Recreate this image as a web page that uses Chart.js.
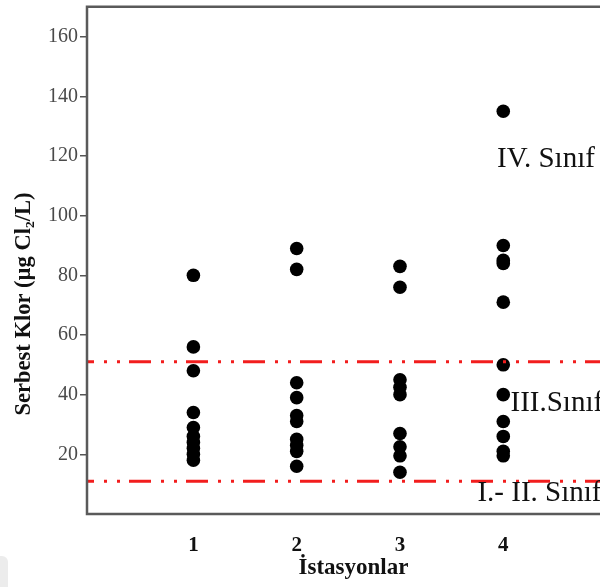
<!DOCTYPE html>
<html>
<head>
<meta charset="utf-8">
<script src="https://cdn.jsdelivr.net/npm/chart.js@4/dist/chart.umd.min.js"></script>
<style>
  html, body { margin: 0; padding: 0; background: #fff; overflow: hidden; }
  #wrap { width: 640px; height: 587px; }
</style>
</head>
<body>
<div id="wrap"><canvas id="c" width="640" height="587"></canvas></div>
<script>
// Free chlorine measurements per station (µg Cl2/L)
const stations = [1, 2, 3, 4];
const station1 = [80, 56, 48, 34, 29, 26, 24, 22, 20, 18];
const station2 = [89, 82, 44, 39, 33, 31, 25, 23, 21, 16];
const station3 = [83, 76, 45, 42.5, 40, 27, 22.5, 19.5, 14];
const station4 = [135, 90, 85, 84, 71, 50, 40, 31, 26, 21, 19.5];

// Water quality class limits and their labels
const classLimits = [51, 11];
const classLabels = ['IV. Sınıf', 'III.Sınıf', 'I.- II. Sınıf'];

const yTickValues = [20, 40, 60, 80, 100, 120, 140, 160];
const xTitle = 'İstasyonlar';
const yTitle = 'Serbest Klor (µg Cl₂/L)';

const X_MIN = -0.03, X_MAX = 5.13, Y_MIN = 0, Y_MAX = 170;
const SERIF = "'Liberation Serif', 'Times New Roman', serif";

const stationSeries = [station1, station2, station3, station4];
const pointData = [];
stationSeries.forEach((vals, i) => {
  vals.forEach(v => pointData.push({ x: stations[i], y: v }));
});

const limitDatasets = classLimits.map(lim => ({
  type: 'scatter',
  data: [{ x: X_MIN, y: lim }, { x: X_MAX, y: lim }],
  showLine: true,
  borderColor: '#f21d1d',
  borderWidth: 3,
  borderDash: [22, 10, 3, 10, 3, 9],
  borderDashOffset: 15,
  pointRadius: 0,
  fill: false,
  order: 0
}));

// Label anchors (data coordinates) for the class names
const labelAnchors = [
  { x: 3.94, y: 119 },
  { x: 4.07, y: 37 },
  { x: 3.75, y: 7 }
];

const noEdgePadding = s => {
  s.paddingTop = 0; s.paddingBottom = 0; s.paddingLeft = 0; s.paddingRight = 0;
};

const backdropPlugin = {
  id: 'backdrop',
  beforeDraw(chart) {
    const { ctx } = chart;
    ctx.save();
    ctx.fillStyle = '#ececec';
    ctx.beginPath();
    ctx.roundRect(-10, 556, 18, 50, 6);
    ctx.fill();
    ctx.restore();
  }
};

const framePlugin = {
  id: 'frame',
  afterDatasetsDraw(chart) {
    const { ctx, chartArea: a } = chart;
    ctx.save();
    ctx.strokeStyle = '#5a5a5a';
    ctx.lineWidth = 2.5;
    ctx.beginPath();
    ctx.moveTo(a.right + 2, a.top);
    ctx.lineTo(a.left, a.top);
    ctx.lineTo(a.left, a.bottom);
    ctx.lineTo(a.right + 2, a.bottom);
    ctx.stroke();
    ctx.restore();
  }
};

const textPlugin = {
  id: 'texts',
  afterDraw(chart) {
    const { ctx, scales } = chart;
    ctx.save();
    // class names
    ctx.fillStyle = '#111';
    ctx.font = '29px ' + SERIF;
    ctx.textAlign = 'left';
    ctx.textBaseline = 'middle';
    classLabels.forEach((t, i) => {
      const p = labelAnchors[i];
      ctx.fillText(t, scales.x.getPixelForValue(p.x), scales.y.getPixelForValue(p.y));
    });
    // vertical axis title
    ctx.translate(24, 304);
    ctx.rotate(-Math.PI / 2);
    ctx.font = 'bold 22.5px ' + SERIF;
    ctx.textAlign = 'center';
    ctx.fillStyle = '#111';
    ctx.fillText(yTitle, 0, 0);
    ctx.restore();
  }
};

new Chart(document.getElementById('c'), {
  type: 'scatter',
  data: {
    datasets: [
      ...limitDatasets,
      {
        type: 'scatter',
        data: pointData,
        backgroundColor: '#000',
        borderColor: '#000',
        pointRadius: 6.8,
        pointBorderWidth: 0,
        order: 1
      }
    ]
  },
  options: {
    responsive: false,
    devicePixelRatio: 1,
    animation: false,
    layout: { padding: { top: 5, right: 20, bottom: 0, left: 0 } },
    plugins: { legend: { display: false }, tooltip: { enabled: false } },
    scales: {
      x: {
        type: 'linear',
        min: X_MIN,
        max: X_MAX,
        afterBuildTicks: s => { s.ticks = stations.map(v => ({ value: v })); },
        afterFit: s => { s.height = 73; noEdgePadding(s); },
        grid: { display: false, drawTicks: false },
        border: { display: false },
        ticks: {
          padding: 19,
          color: '#111',
          font: { family: SERIF, size: 21, weight: 'bold' },
          callback: v => String(v)
        },
        title: {
          display: true,
          text: xTitle,
          color: '#111',
          font: { family: SERIF, size: 23, weight: 'bold' },
          padding: { top: 0, bottom: 5 }
        }
      },
      y: {
        type: 'linear',
        min: Y_MIN,
        max: Y_MAX,
        afterBuildTicks: s => { s.ticks = yTickValues.map(v => ({ value: v })); },
        afterFit: s => { s.width = 87; noEdgePadding(s); },
        grid: {
          drawOnChartArea: false,
          drawTicks: true,
          tickLength: 7,
          color: '#555',
          lineWidth: 1.5
        },
        border: { display: false },
        ticks: {
          padding: 2,
          color: '#4a4a4a',
          font: { family: SERIF, size: 20 },
          callback: v => String(v)
        }
      }
    }
  },
  plugins: [backdropPlugin, framePlugin, textPlugin]
});
</script>
</body>
</html>
